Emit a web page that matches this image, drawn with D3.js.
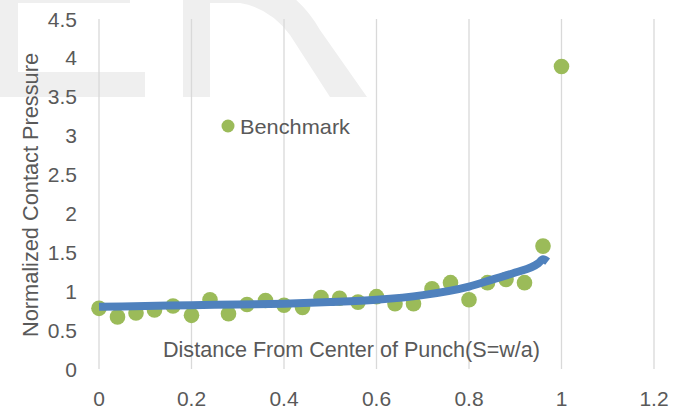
<!DOCTYPE html>
<html>
<head>
<meta charset="utf-8">
<script src="https://cdn.jsdelivr.net/npm/d3@7"></script>
<style>
  body { margin: 0; background: #fff; }
  svg text { font-family: "Liberation Sans", Arial, sans-serif; fill: #595959; }
</style>
</head>
<body>
<div id="chart"></div>
<script>
// benchmark points (S = w/a vs normalized pressure)
const benchX = [0, 0.04, 0.08, 0.12, 0.16, 0.2, 0.24, 0.28, 0.32, 0.36, 0.4, 0.44, 0.48,
  0.52, 0.56, 0.6, 0.64, 0.68, 0.72, 0.76, 0.8, 0.84, 0.88, 0.92, 0.96, 1.0];
const benchY = [0.78, 0.67, 0.72, 0.76, 0.81, 0.69, 0.89, 0.71, 0.83, 0.88, 0.82, 0.79, 0.92,
  0.91, 0.86, 0.93, 0.84, 0.84, 1.03, 1.11, 0.89, 1.11, 1.15, 1.11, 1.58, 3.89];

// fitted curve
const curveX = [0, 0.1, 0.2, 0.3, 0.4, 0.5, 0.6, 0.7, 0.8, 0.85, 0.9, 0.95, 0.96, 0.97];
const curveY = [0.80, 0.81, 0.82, 0.83, 0.84, 0.86, 0.89, 0.95, 1.06, 1.15, 1.24, 1.36, 1.41, 1.38];

const xTicks = [0, 0.2, 0.4, 0.6, 0.8, 1, 1.2];
const yTicks = [0, 0.5, 1, 1.5, 2, 2.5, 3, 3.5, 4, 4.5];

const xLabel = "Distance From Center of Punch(S=w/a)";
const yLabel = "Normalized Contact Pressure";
const legendLabel = "Benchmark";

const width = 683, height = 412;
const fontSize = 21;

const svg = d3.select("#chart").append("svg").attr("width", width).attr("height", height);

// watermark in the top-left corner, cut off at y=97
const wm = svg.append("g").attr("fill", "#efefef");
wm.append("rect").attr("x", -10).attr("y", 0).attr("width", 28).attr("height", 97);
wm.append("rect").attr("x", -10).attr("y", -22).attr("width", 140).attr("height", 25);
wm.append("rect").attr("x", -10).attr("y", 72).attr("width", 155).attr("height", 25);
wm.append("rect").attr("x", 183).attr("y", 0).attr("width", 27).attr("height", 97);
wm.append("rect").attr("x", 183).attr("y", -22).attr("width", 90).attr("height", 25);
wm.append("path")
  .attr("d", "M265,-20 Q300,-5 320,30 L367,97 L330,97 L290,35 Q270,8 240,3 Z");

const x = d3.scaleLinear().domain([0, 1.2]).range([99, 654]);
const y = d3.scaleLinear().domain([0, 4.5]).range([369, 19]);

// vertical gridlines
svg.append("g")
  .selectAll("line")
  .data(xTicks)
  .enter()
  .append("line")
  .attr("x1", (d) => x(d))
  .attr("x2", (d) => x(d))
  .attr("y1", y(4.5))
  .attr("y2", y(0))
  .attr("stroke", "#d9d9d9")
  .attr("stroke-width", 1.3);

// x tick labels
svg.append("g")
  .selectAll("text")
  .data(xTicks)
  .enter()
  .append("text")
  .attr("x", (d) => x(d))
  .attr("y", 406)
  .attr("text-anchor", "middle")
  .style("font-size", fontSize + "px")
  .text((d) => d);

// y tick labels
svg.append("g")
  .selectAll("text")
  .data(yTicks)
  .enter()
  .append("text")
  .attr("x", 77)
  .attr("y", (d) => y(d) + 7.5)
  .attr("text-anchor", "end")
  .style("font-size", fontSize + "px")
  .text((d) => d);

// benchmark dots
svg.append("g")
  .selectAll("circle")
  .data(benchY)
  .enter()
  .append("circle")
  .attr("cx", (d, i) => x(benchX[i]))
  .attr("cy", (d) => y(d))
  .attr("r", 7.8)
  .attr("fill", "#9bbb59");

// fitted curve on top
svg.append("path")
  .datum(curveY)
  .attr("fill", "none")
  .attr("stroke", "#4f81bd")
  .attr("stroke-width", 8)
  .attr(
    "d",
    d3
      .line()
      .curve(d3.curveMonotoneX)
      .x((d, i) => x(curveX[i]))
      .y((d) => y(d)),
  );

// legend
svg.append("circle").attr("cx", 228).attr("cy", 126).attr("r", 6.5).attr("fill", "#9bbb59");
svg.append("text")
  .attr("x", 240)
  .attr("y", 133.5)
  .style("font-size", fontSize + "px")
  .attr("textLength", 110)
  .attr("lengthAdjust", "spacingAndGlyphs")
  .text(legendLabel);

// x axis title (sits inside the plot)
svg.append("text")
  .attr("x", 351.5)
  .attr("y", 357)
  .attr("text-anchor", "middle")
  .style("font-size", "22px")
  .attr("textLength", 377)
  .attr("lengthAdjust", "spacingAndGlyphs")
  .text(xLabel);

// y axis title
svg.append("text")
  .attr("transform", "translate(38,195) rotate(-90)")
  .attr("text-anchor", "middle")
  .style("font-size", "22px")
  .attr("textLength", 284)
  .attr("lengthAdjust", "spacingAndGlyphs")
  .text(yLabel);
</script>
</body>
</html>
